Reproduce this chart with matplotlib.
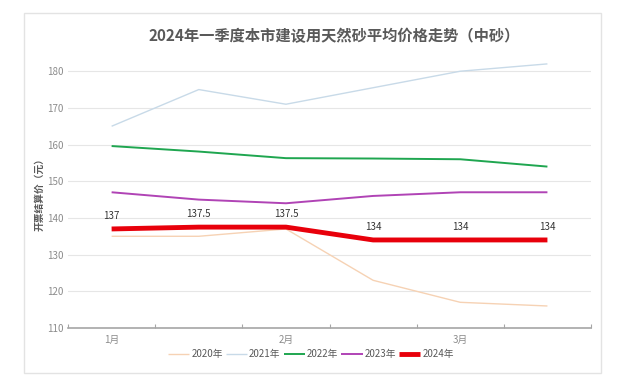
import matplotlib.pyplot as plt
from matplotlib.patches import Rectangle

plt.rcParams['font.family'] = ['Noto Sans CJK SC', 'DejaVu Sans']

# 数据
months = ['1月', '', '2月', '', '3月', '']
years = ['2020年', '2021年', '2022年', '2023年', '2024年']
p2020 = [135, 135, 137, 123, 117, 116]
p2021 = [165, 175, 171, 175.5, 180, 182]
p2022 = [159.6, 158.1, 156.3, 156.2, 156, 154]
p2023 = [147, 145, 144, 146, 147, 147]
p2024 = [137, 137.5, 137.5, 134, 134, 134]

colors = ['#f6d2b4', '#c8dae8', '#1fa650', '#b043b5', '#e8000b']
widths = [1.0, 1.0, 1.4, 1.4, 3.5]

fig = plt.figure(figsize=(6.37, 3.77), dpi=100)
ax = fig.add_axes([0.1068, 0.130, 0.821, 0.720])

# 外框
fig.patches.append(Rectangle((24 / 637, 1 - 373 / 377), 577 / 637, 360 / 377,
                             transform=fig.transFigure, fill=False,
                             edgecolor='#e3e3e3', linewidth=1))

x = range(len(months))
series = [p2020, p2021, p2022, p2023, p2024]
for vals, c, w, name in zip(series, colors, widths, years):
    ax.plot(x, vals, color=c, linewidth=w, label=name, solid_capstyle='butt')

for xi, v in zip(x, p2024):
    ax.annotate(f'{v:g}', (xi, v), xytext=(0, 6), textcoords='offset points',
                ha='center', va='bottom', fontsize=7, color='#333333')

ax.set_xlim(-0.5, 5.5)
ax.set_ylim(110, 184)
ax.set_yticks(range(110, 181, 10))
ax.grid(axis='y', color='#e6e6e6', linewidth=0.8)
ax.set_axisbelow(True)

ax.set_xticks([i - 0.5 for i in range(len(months) + 1)])
ax.set_xticklabels([])
ax.set_xticks([0, 2, 4], minor=True)
ax.set_xticklabels([m for m in months if m], minor=True)
ax.tick_params(axis='x', which='major', direction='in', length=3,
               color='#a6a6a6', width=0.8)
ax.tick_params(axis='x', which='minor', length=0, pad=5, labelsize=7,
               labelcolor='#8c8c8c')
ax.tick_params(axis='y', length=0, labelsize=7, labelcolor='#8c8c8c', pad=3)

for s in ['top', 'right', 'left']:
    ax.spines[s].set_visible(False)
ax.spines['bottom'].set_color('#a6a6a6')
ax.spines['bottom'].set_linewidth(1.2)

ax.set_ylabel('开票结算价（元）', fontsize=7, color='#595959', labelpad=2,
              fontweight='bold')
fig.suptitle('2024年一季度本市建设用天然砂平均价格走势（中砂）', x=0.524, y=0.925,
             fontsize=11, color='#595959', fontweight='bold')

fig.legend(loc='center', bbox_to_anchor=(0.488, 1 - 354 / 377), ncol=5,
           frameon=False, fontsize=7, handlelength=2.2, columnspacing=0.3,
           handletextpad=0.2, labelcolor='#595959')

fig.savefig('out.png', dpi=100)
